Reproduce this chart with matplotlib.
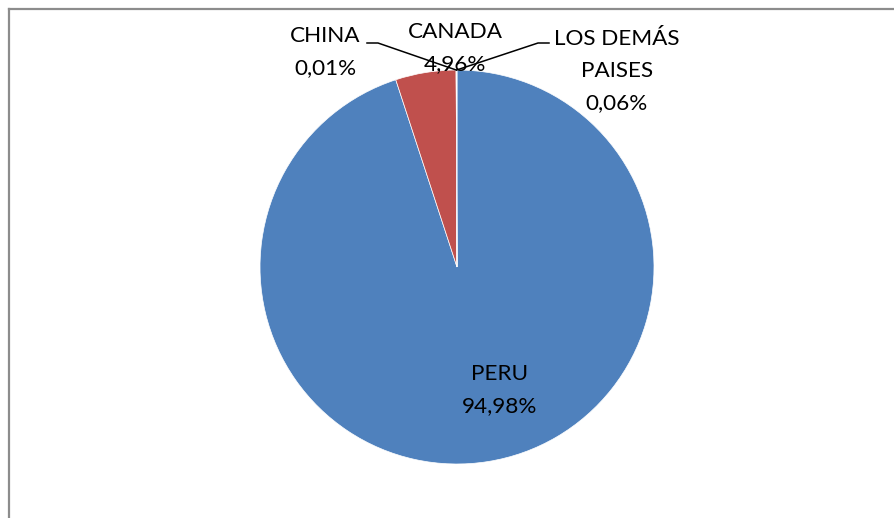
import matplotlib
matplotlib.use("Agg")
import matplotlib.pyplot as plt
from matplotlib.lines import Line2D
import numpy as np

plt.rcParams['font.family'] = ['Lato', 'DejaVu Sans']

# Share of exports by destination country (%)
countries = ["PERU", "CANADA", "CHINA", "LOS DEMÁS\nPAISES"]
shares = [94.98, 4.96, 0.01, 0.06]
colors = ["#4F81BD", "#C0504D", "#9BBB59", "#8064A2"]

W, H = 894, 518
fig = plt.figure(figsize=(W / 100, H / 100), dpi=100)
fig.patch.set_facecolor("white")

# pie axes placed in pixel terms: centre (457, 267), radius 197
cx, cy, r = 457, 267, 197
ax = fig.add_axes([(cx - r) / W, (H - cy - r) / H, 2 * r / W, 2 * r / H])
ax.axis("off")

wedges, _ = ax.pie(shares, colors=colors, startangle=90, counterclock=False,
                   radius=1, wedgeprops=dict(edgecolor="white", linewidth=0.5))
ax.set_xlim(-1, 1)
ax.set_ylim(-1, 1)
ax.set_aspect("equal")


def px(x, y):
    """pixel position -> pie data coordinates"""
    return (x - cx) / r, (cy - y) / r


def pct(v):
    return f"{v:.2f}".replace(".", ",") + "%"


fs = 16.2
line_gap = 32  # px between label lines


def label(lines, x, y_first):
    for i, s in enumerate(lines):
        tx, ty = px(x, y_first + i * line_gap)
        ax.text(tx, ty, s, ha="center", va="center", fontsize=fs,
                color="black", clip_on=False)


name = {c: c.split("\n") for c in countries}

# PERU inside the pie
label(name["PERU"] + [pct(shares[0])], 500, 374)
# CANADA above the top of the pie
label(name["CANADA"] + [pct(shares[1])], 455, 32)
# CHINA to the upper left
label(name["CHINA"] + [pct(shares[2])], 325, 36)
# remaining countries to the upper right
label(name["LOS DEMÁS\nPAISES"] + [pct(shares[3])], 617, 39)


def wedge_edge_point(w):
    ang = np.deg2rad((w.theta1 + w.theta2) / 2)
    return np.cos(ang), np.sin(ang)

# leader lines for the two tiny slices
for w, (x0, x1) in ((wedges[2], (367, 378)), (wedges[3], (549, 538))):
    ex, ey = wedge_edge_point(w)
    p0 = px(x0, 43)
    p1 = px(x1, 43)
    ax.add_line(Line2D([p0[0], p1[0], ex], [p0[1], p1[1], ey],
                       color="black", linewidth=1.1, clip_on=False))

# chart area frame (top and left edges)
fig.add_artist(Line2D([8.5 / W, 1], [1 - 8.5 / H, 1 - 8.5 / H],
                      transform=fig.transFigure, color="#8C8C8C", linewidth=1.6))
fig.add_artist(Line2D([8.5 / W, 8.5 / W], [0, 1 - 8.5 / H],
                      transform=fig.transFigure, color="#8C8C8C", linewidth=1.6))

fig.savefig("out.png", dpi=100, facecolor="white")
